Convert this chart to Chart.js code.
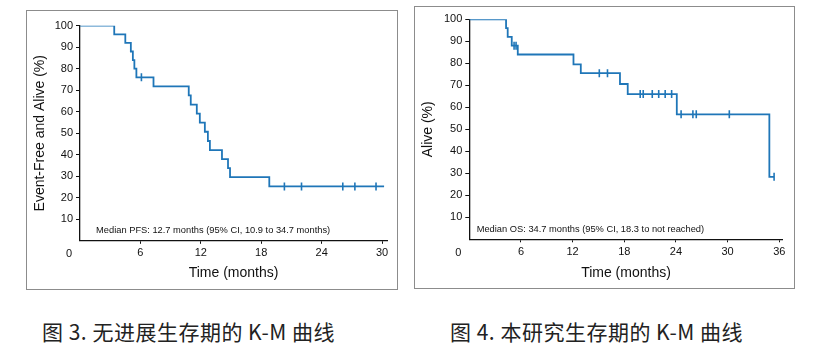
<!DOCTYPE html>
<html>
<head>
<meta charset="utf-8">
<script src="https://cdn.jsdelivr.net/npm/chart.js@4.4.1/dist/chart.umd.min.js"></script>
<style>
  body { margin: 0; background: #fff; width: 825px; height: 353px; position: relative; overflow: hidden; }
  .frame { position: absolute; border: 1.3px solid #8c8c8c; box-sizing: border-box; }
  canvas { position: absolute; top: 0; }
  .cap { position: absolute; font-family: "Noto Sans CJK SC", sans-serif; font-size: 21px; line-height: 24px; letter-spacing: 0.5px; color: #222; white-space: nowrap; }
</style>
</head>
<body>
<div class="frame" style="left:26px;top:10px;width:372px;height:280px"></div>
<div class="frame" style="left:414px;top:6px;width:381px;height:283px"></div>
<canvas id="pfs" style="left:0px" width="405" height="300"></canvas>
<canvas id="os" style="left:405px" width="420" height="300"></canvas>
<div class="cap" style="left:42px;top:319px">图 3. 无进展生存期的 K-M 曲线</div>
<div class="cap" style="left:450px;top:319px">图 4. 本研究生存期的 K-M 曲线</div>

<script>
// Kaplan-Meier steps (months, % event-free / alive)
const pfsMonths  = [0, 3.4, 4.5, 5.05, 5.25, 5.4, 5.6, 7.3, 10.8, 11.0, 11.6, 11.9, 12.4, 12.7, 12.9, 14.1, 14.7, 14.9, 18.8, 30.2];
const pfsPercent = [100, 96, 92, 88, 84, 80, 76, 71.8, 67.6, 63.3, 59.1, 54.9, 50.7, 46.4, 42.2, 38.0, 33.8, 29.6, 25.3, 25.3];
const pfsCensorMonths  = [6.1, 20.3, 22.0, 26.1, 27.3, 29.4];
const pfsCensorPercent = [76, 25.3, 25.3, 25.3, 25.3, 25.3];

const osMonths  = [0, 4.27, 4.46, 4.93, 5.63, 12.1, 12.95, 17.5, 18.4, 24.1, 34.85, 35.4];
const osPercent = [100, 96, 92, 88, 84, 79.5, 75.5, 70.6, 66, 56.8, 28.4, 28.4];
const osCensorMonths  = [5.2, 5.43, 15.1, 16.05, 19.85, 20.2, 21.25, 22.0, 22.75, 23.5, 24.6, 25.97, 26.36, 30.2, 35.4];
const osCensorPercent = [88, 88, 75.5, 75.5, 66, 66, 66, 66, 66, 66, 56.8, 56.8, 56.8, 56.8, 28.4];

// tick labels
const pfsXTicks = [0, 6, 12, 18, 24, 30];
const osXTicks = [0, 6, 12, 18, 24, 30, 36];
const yTicks = [0, 10, 20, 30, 40, 50, 60, 70, 80, 90, 100];

const pfsNote = 'Median PFS: 12.7 months (95% CI, 10.9 to 34.7 months)';
const osNote = 'Median OS: 34.7 months (95% CI, 18.3 to not reached)';

const FONT = '"Liberation Sans", Arial, sans-serif';
const BLUE = '#1f76b8';
const INK = '#111';

// draws the shared "0" at the corner and the median note
const cornerText = {
  id: 'cornerText',
  afterDraw(chart, args, opts) {
    const { ctx, chartArea, scales } = chart;
    ctx.save();
    ctx.fillStyle = INK;
    ctx.font = '11px ' + FONT;
    ctx.textAlign = 'center';
    ctx.textBaseline = 'middle';
    ctx.fillText('0', chartArea.left - 11, chartArea.bottom + 13.5);
    ctx.font = '9.3px ' + FONT;
    ctx.textAlign = 'left';
    ctx.fillText(opts.note, scales.x.getPixelForValue(opts.at[0]), scales.y.getPixelForValue(opts.at[1]));
    ctx.restore();
  }
};

function toPoints(xs, ys) {
  return xs.map((x, i) => ({ x: x, y: ys[i] }));
}

function makeKM(id, s) {
  return new Chart(document.getElementById(id), {
    type: 'line',
    data: {
      datasets: [{
        data: toPoints(s.months, s.percent),
        borderColor: BLUE,
        borderWidth: 1.8,
        stepped: true,
        pointRadius: 0,
        fill: false
      }, {
        data: toPoints(s.censorMonths, s.censorPercent),
        showLine: false,
        pointStyle: 'line',
        rotation: 90,
        pointRadius: 4,
        borderColor: BLUE,
        pointBorderWidth: 1.6
      }]
    },
    options: {
      responsive: false,
      animation: false,
      events: [],
      layout: { padding: s.padding },
      plugins: {
        legend: { display: false },
        tooltip: { enabled: false },
        cornerText: { note: s.note, at: s.noteAt }
      },
      scales: {
        x: {
          type: 'linear',
          min: 0,
          max: s.xMax,
          afterBuildTicks: sc => { sc.ticks = s.xTicks.map(v => ({ value: v })); },
          afterFit: sc => { sc.height = s.xHeight; },
          border: { display: true, color: INK, width: 1.3 },
          grid: {
            drawOnChartArea: false,
            tickLength: 3,
            tickColor: c => c.tick && c.tick.value === 0 ? 'rgba(0,0,0,0)' : INK
          },
          ticks: {
            padding: 3,
            color: INK,
            font: { family: FONT, size: 11 },
            maxRotation: 0,
            callback: v => v === 0 ? '' : v
          },
          title: {
            display: true,
            text: 'Time (months)',
            color: INK,
            font: { family: FONT, size: 14 },
            padding: { top: 0, bottom: s.xTitlePad }
          }
        },
        y: {
          min: 0,
          max: 100,
          afterBuildTicks: sc => { sc.ticks = yTicks.map(v => ({ value: v })); },
          afterFit: sc => { sc.width = s.yWidth; },
          border: { display: true, color: INK, width: 1.3 },
          grid: {
            drawOnChartArea: false,
            tickLength: 4,
            tickColor: c => c.tick && c.tick.value === 0 ? 'rgba(0,0,0,0)' : INK
          },
          ticks: {
            padding: 3,
            color: INK,
            font: { family: FONT, size: 11 },
            callback: v => v === 0 ? '' : v
          },
          title: {
            display: true,
            text: s.yTitle,
            color: INK,
            font: { family: FONT, size: 14 },
            padding: { top: s.yTitlePad, bottom: 0 }
          }
        }
      }
    },
    plugins: [cornerText]
  });
}

makeKM('pfs', {
  months: pfsMonths, percent: pfsPercent,
  censorMonths: pfsCensorMonths, censorPercent: pfsCensorPercent,
  xTicks: pfsXTicks, xMax: 30.5,
  yTitle: 'Event-Free and Alive (%)',
  note: pfsNote, noteAt: [1.6, 5],
  padding: { left: 27, top: 25.7, right: 17.9, bottom: 12 },
  yWidth: 53, xHeight: 47.2, yTitlePad: 4.6, xTitlePad: 6.3
});

makeKM('os', {
  months: osMonths, percent: osPercent,
  censorMonths: osCensorMonths, censorPercent: osCensorPercent,
  xTicks: osXTicks, xMax: 36.4,
  yTitle: 'Alive (%)',
  note: osNote, noteAt: [0.86, 4.5],
  padding: { left: 9, top: 19.3, right: 42.3, bottom: 12 },
  yWidth: 55.3, xHeight: 48.7, yTitlePad: 5.6, xTitlePad: 6.9
});
</script>
</body>
</html>
